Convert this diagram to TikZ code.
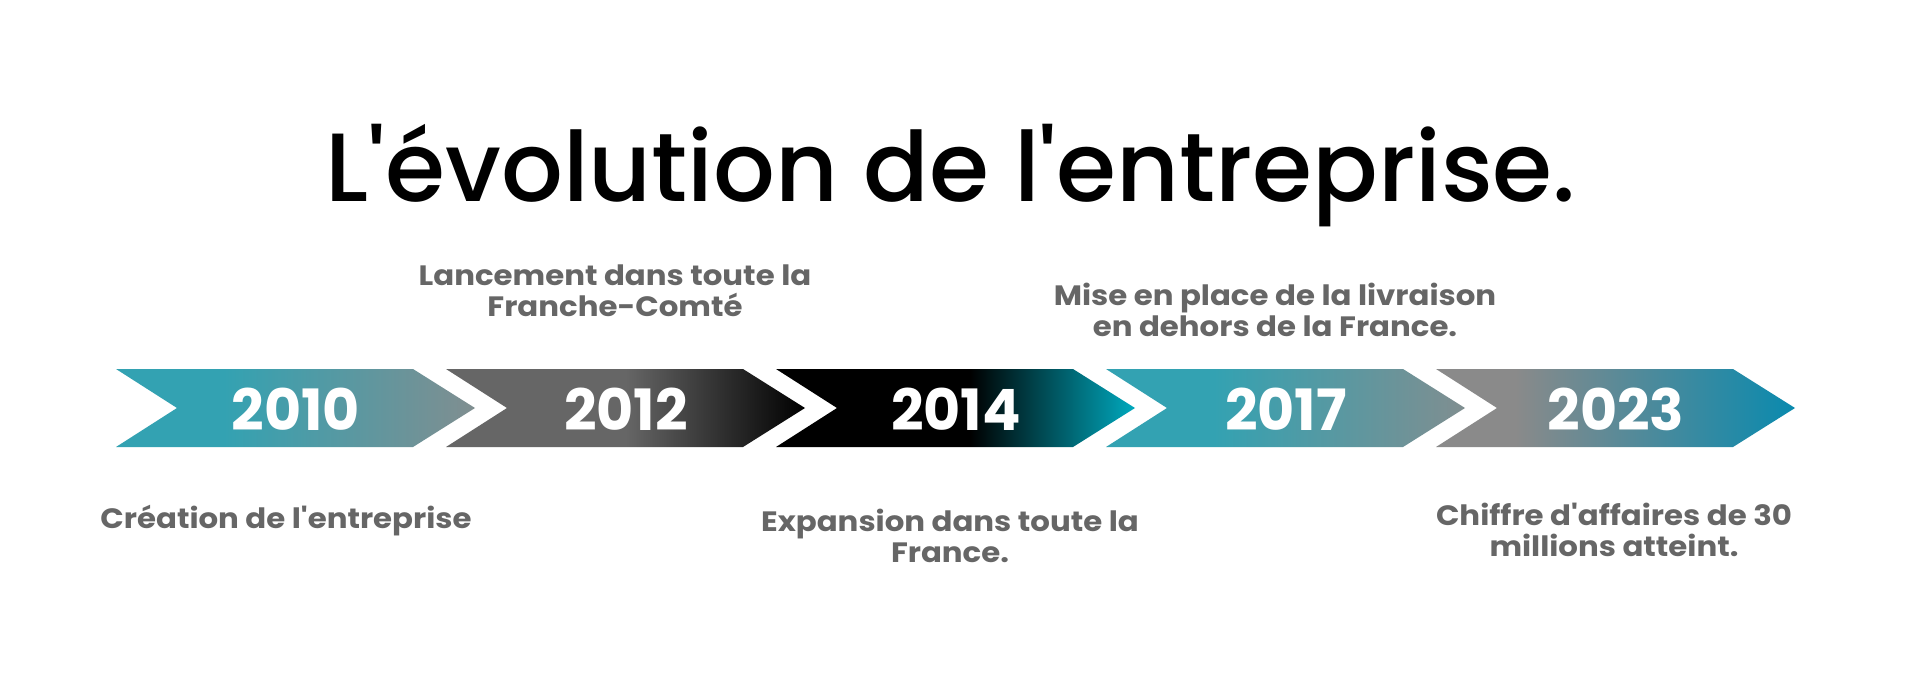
\documentclass[tikz,border=0pt]{standalone}
\usepackage{fontspec}
\setmainfont{Poppins}
\newfontfamily\titlefont{Poppins Medium}
\newfontfamily\labelfont{Poppins}[FakeStretch=1.1]
\newfontfamily\yearfont{Poppins}
\definecolor{tealA}{HTML}{33A2B2}
\definecolor{greyA}{HTML}{808E90}
\definecolor{greyB}{HTML}{666666}
\definecolor{tealC}{HTML}{00A9BE}
\definecolor{greyE}{HTML}{8A8A8A}
\definecolor{blueE}{HTML}{0A8AAE}
\definecolor{labelgrey}{HTML}{666666}
\pgfdeclarehorizontalshading{shA}{100bp}{color(0bp)=(tealA); color(25bp)=(tealA); color(40bp)=(tealA); color(75bp)=(greyA); color(100bp)=(greyA)}
\pgfdeclarehorizontalshading{shB}{100bp}{color(0bp)=(greyB); color(25bp)=(greyB); color(50bp)=(greyB); color(75bp)=(black); color(100bp)=(black)}
\pgfdeclarehorizontalshading{shC}{100bp}{color(0bp)=(black); color(25bp)=(black); color(52bp)=(black); color(75bp)=(tealC); color(100bp)=(tealC)}
\pgfdeclarehorizontalshading{shE}{100bp}{color(0bp)=(greyE); color(25bp)=(greyE); color(36bp)=(greyE); color(75bp)=(blueE); color(100bp)=(blueE)}
\tikzset{
  chev/.style={draw=none},
  year/.style={text=white, font=\yearfont\fontsize{57}{62}\selectfont\bfseries, inner sep=0pt},
  lbl/.style={text=labelgrey, font=\labelfont\fontsize{28}{31}\selectfont\bfseries, align=center, inner sep=0pt},
}
\newcommand{\chevronat}[2]{%
  \shade[chev, shading=#2] (#1,369) -- ++(297,0) -- ++(62,39) -- ++(-62,39) -- ++(-297,0) -- ++(61,-39) -- cycle;
}
\begin{document}
\begin{tikzpicture}[x=1pt,y=-1pt]
\useasboundingbox (0,0) rectangle (1910,682);
\fill[white] (0,0) rectangle (1910,682);
\node[font=\titlefont\fontsize{97}{100}\selectfont, anchor=base, inner sep=0pt] (title) at (951,201) {L'évolution de l'entreprise.};
\chevronat{116}{shA}
\chevronat{446}{shB}
\chevronat{776}{shC}
\chevronat{1106}{shA}
\chevronat{1436}{shE}
\node[year] (y1) at (296,409) {2010};
\node[year] (y2) at (626,409) {2012};
\node[year] (y3) at (956,409) {2014};
\node[year] (y4) at (1286,409) {2017};
\node[year] (y5) at (1616,409) {2023};
\node[lbl] (l2) at (615,291) {Lancement dans toute la\\Franche-Comté};
\node[lbl] (l4) at (1275,310) {Mise en place de la livraison\\en dehors de la France.};
\node[lbl] (l1) at (286,521) {Création de l'entreprise};
\node[lbl] (l3) at (950,536) {Expansion dans toute la\\France.};
\node[lbl] (l5) at (1614,530) {Chiffre d'affaires de 30\\millions atteint.};
\end{tikzpicture}
\end{document}
